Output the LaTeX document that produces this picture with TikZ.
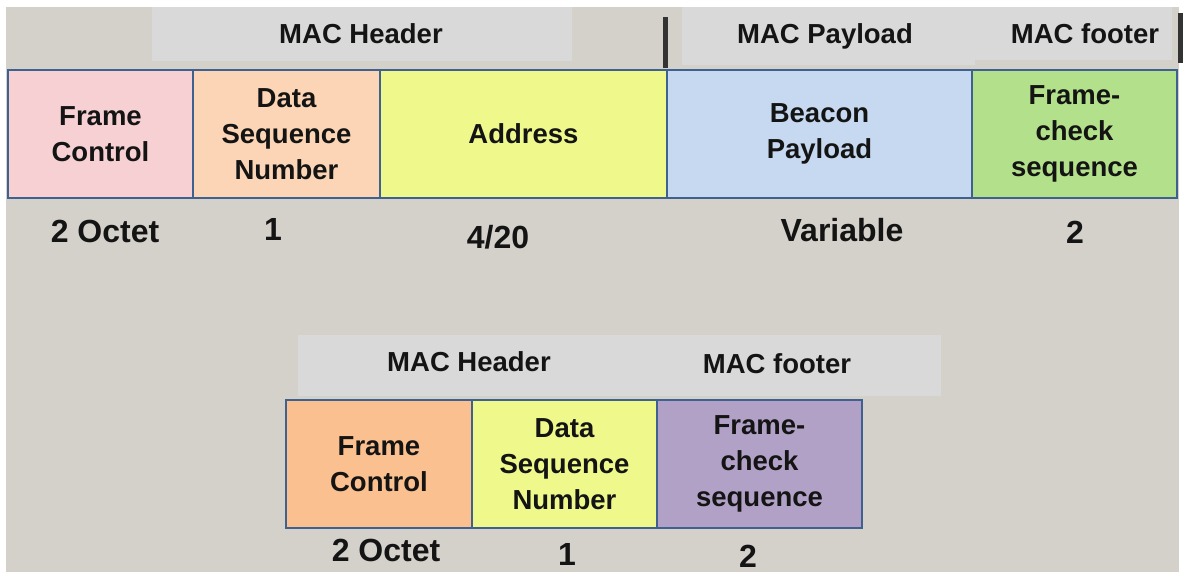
\documentclass[tikz,border=0pt]{standalone}
\usepackage{fontspec}
\setmainfont{Liberation Sans}
\definecolor{bg}{HTML}{D4D0CA}
\definecolor{strip}{HTML}{D9D9D9}
\definecolor{edge}{HTML}{3E6190}
\definecolor{cpink}{HTML}{F6D0D2}
\definecolor{cpeach}{HTML}{FBD5B5}
\definecolor{cyellow}{HTML}{EFF98B}
\definecolor{cblue}{HTML}{C6D9F0}
\definecolor{cgreen}{HTML}{B3E18B}
\definecolor{corange}{HTML}{FAC08F}
\definecolor{cpurple}{HTML}{B2A1C7}
\definecolor{ink}{HTML}{141414}
\tikzset{
  fieldbox/.style={draw=edge, line width=2pt, anchor=north west, inner sep=0pt, outer sep=0pt,
    minimum height=128pt, align=center, text=ink,
    font=\fontsize{27.5}{36}\selectfont\bfseries},
  labelstrip/.style={fill=strip, draw=none, anchor=north west, inner sep=0pt, outer sep=0pt},
  striptext/.style={text=ink, font=\fontsize{27.5}{34}\selectfont\bfseries, inner sep=0pt, anchor=base},
  sizetext/.style={text=ink, font=\fontsize{32}{38}\selectfont\bfseries, inner sep=0pt, anchor=base},
  bar/.style={line width=5pt, draw=black!80}
}
\begin{document}
\begin{tikzpicture}[x=1pt, y=-1pt]
\useasboundingbox (0,0) rectangle (1184,572);
\fill[white] (0,0) rectangle (1184,572);
\fill[bg] (6,7) rectangle (1179,572);

% top label strips
\node[labelstrip, minimum width=420pt, minimum height=54pt] (hs1) at (152,7) {};
\node[labelstrip, minimum width=293pt, minimum height=58pt] (ps1) at (682,7) {};
\node[labelstrip, minimum width=197pt, minimum height=53pt] (fs1) at (975,7) {};
\node[striptext] (th) at (361,44) {MAC Header};
\node[striptext] (tp) at (825,44) {MAC Payload};
\node[striptext] (tf) at (1085,44) {MAC footer};
\coordinate (b1a) at (665,17);
\coordinate (b1b) at (665,68);
\coordinate (b2a) at (1180,13);
\coordinate (b2b) at (1180,63);
\draw[bar] (b1a) -- (b1b);
\draw[bar] (b2a) -- (b2b);

% top fields
\node[fieldbox, fill=cpink, minimum width=185pt] (fc1) at (8,70) {Frame\\Control};
\node[fieldbox, fill=cpeach, minimum width=187pt] (ds1) at (193,70) {Data\\Sequence\\Number};
\node[fieldbox, fill=cyellow, minimum width=287pt] (ad1) at (380,70) {Address};
\node[fieldbox, fill=cblue, minimum width=305pt] (bp1) at (667,70) {Beacon\\Payload};
\node[fieldbox, fill=cgreen, minimum width=205pt] (fcs1) at (972,70) {Frame-\\check\\sequence};

% top sizes
\node[sizetext] (s1) at (105,243) {2 Octet};
\node[sizetext] (s2) at (273,241) {1};
\node[sizetext] (s3) at (498,249) {4/20};
\node[sizetext] (s4) at (842,242) {Variable};
\node[sizetext] (s5) at (1075,244) {2};

% bottom label strip
\node[labelstrip, minimum width=643pt, minimum height=61pt] (hs2) at (298,335) {};
\node[striptext] (th2) at (469,371) {MAC Header};
\node[striptext] (tf2) at (777,373) {MAC footer};

% bottom fields
\node[fieldbox, fill=corange, minimum width=186pt] (fc2) at (286,400) {Frame\\Control};
\node[fieldbox, fill=cyellow, minimum width=185pt] (ds2) at (472,400) {Data\\Sequence\\Number};
\node[fieldbox, fill=cpurple, minimum width=205pt] (fcs2) at (657,400) {Frame-\\check\\sequence};

% bottom sizes
\node[sizetext] (u1) at (386,561) {2 Octet};
\node[sizetext] (u2) at (567,565) {1};
\node[sizetext] (u3) at (748,567) {2};
\end{tikzpicture}
\end{document}
